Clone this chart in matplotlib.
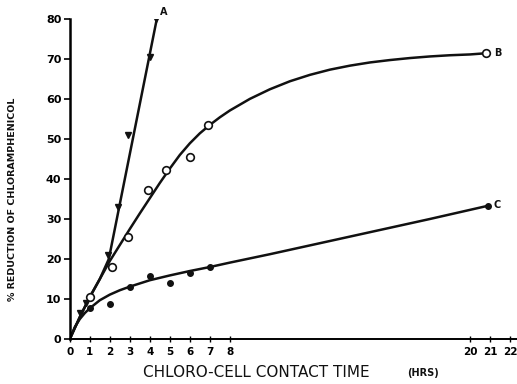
import matplotlib
matplotlib.use("Agg")
import matplotlib.pyplot as plt

# measured points (hrs, % reduction)
a_x = [0.5, 0.8, 1.9, 2.4, 2.9, 4.0, 4.3]
a_y = [6.5, 9.0, 21.0, 33.0, 51.0, 70.5, 80.0]
b_x = [1.0, 2.1, 2.9, 3.9, 4.8, 6.0, 6.9, 20.8]
b_y = [10.4, 18.0, 25.4, 37.2, 42.3, 45.6, 53.5, 71.4]
c_x = [1.0, 2.0, 3.0, 4.0, 5.0, 6.0, 7.0, 20.9]
c_y = [7.7, 8.8, 12.9, 15.8, 14.1, 16.6, 18.1, 33.3]

# hand-drawn fitted curves
a_fit_x = [0, 0.5, 1.0, 1.5, 1.95, 4.35]
a_fit_y = [0, 5.5, 10.5, 15.0, 20.0, 80.0]
b_fit_x = [0, 0.5, 1, 1.5, 2, 2.5, 3, 3.5, 4, 4.5, 5, 5.5, 6, 6.5, 7, 7.5, 8, 9, 10,
           11, 12, 13, 14, 15, 16, 17, 18, 19, 20, 20.8]
b_fit_y = [0, 5.5, 10.5, 15, 19.5, 23.5, 27.5, 31.4, 35.2, 39, 42.6, 46, 48.9, 51.4, 53.5,
           55.4, 57.1, 60, 62.4, 64.4, 66, 67.3, 68.3, 69.1, 69.7, 70.2, 70.6, 70.9, 71.1, 71.4]
c_fit_x = [0, 0.25, 0.5, 0.75, 1, 1.5, 2, 2.5, 3, 3.5, 4, 5, 6, 7, 8, 10, 14, 18, 20.9]
c_fit_y = [0, 3, 5, 6.5, 7.7, 9.7, 11.1, 12.2, 13.1, 13.9, 14.7, 15.9, 17, 18, 19.1, 21.2,
           25.6, 30, 33.3]

x_ticks = [0, 1, 2, 3, 4, 5, 6, 7, 8, 20, 21, 22]
y_ticks = [0, 10, 20, 30, 40, 50, 60, 70, 80]

ink = "#111111"

fig = plt.figure(figsize=(5.17, 3.84), dpi=100)
ax = fig.add_axes([0.135, 0.117, 0.865, 0.834])

ax.plot(a_fit_x, a_fit_y, color=ink, lw=1.8)
ax.plot(b_fit_x, b_fit_y, color=ink, lw=1.8)
ax.plot(c_fit_x, c_fit_y, color=ink, lw=1.8)

ax.plot(a_x, a_y, "v", color=ink, ms=5, ls="none")
ax.plot(b_x, b_y, "o", mfc="white", mec=ink, mew=1.2, ms=5.5, ls="none")
ax.plot(c_x, c_y, "o", color=ink, ms=4, ls="none")

ax.text(4.5, 81.8, "A", fontsize=7, fontweight="bold", color=ink, va="center")
ax.text(21.2, 71.5, "B", fontsize=7, fontweight="bold", color=ink, va="center")
ax.text(21.2, 33.4, "C", fontsize=7, fontweight="bold", color=ink, va="center")

ax.set_xlim(0, 22.35)
ax.set_ylim(0, 80)
ax.set_xticks(x_ticks)
ax.set_yticks(y_ticks)
ax.tick_params(axis="x", direction="inout", length=5, width=1, labelsize=7.5, pad=3)
ax.tick_params(axis="y", direction="out", length=4, width=1.2, labelsize=8, pad=2)
for lab in ax.get_xticklabels() + ax.get_yticklabels():
    lab.set_fontweight("bold")

ax.spines["top"].set_visible(False)
ax.spines["right"].set_visible(False)
ax.spines["left"].set_linewidth(1.8)
ax.spines["bottom"].set_linewidth(1.4)

fig.text(0.025, 0.48, "% REDUCTION OF CHLORAMPHENICOL", fontsize=6.8, fontweight="bold",
         rotation=90, ha="center", va="center", color=ink)

fig.text(0.277, 0.018, "CHLORO-CELL CONTACT TIME", fontsize=11, color=ink)
fig.text(0.787, 0.021, "(HRS)", fontsize=7, fontweight="bold", color=ink)

fig.savefig("out.png", dpi=100)
